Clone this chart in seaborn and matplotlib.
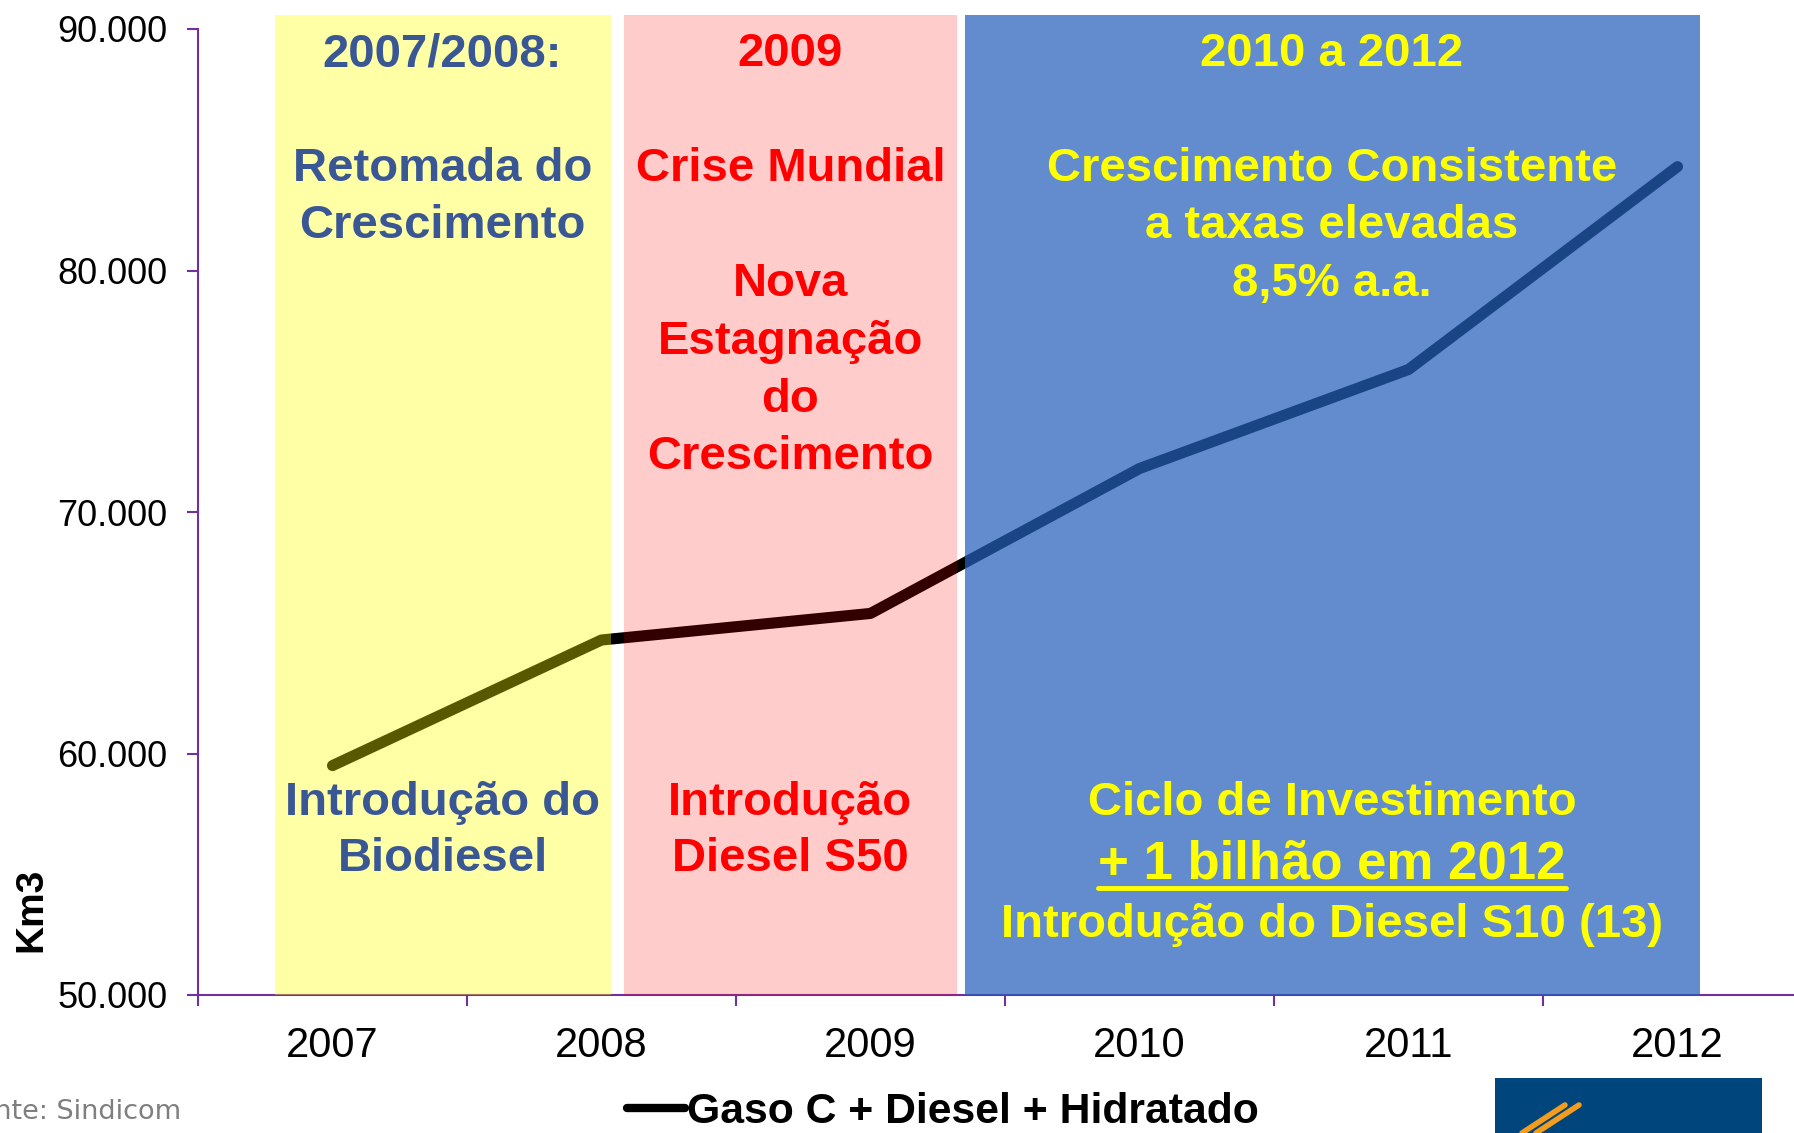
import numpy as np
import pandas as pd
import matplotlib.pyplot as plt
import matplotlib.ticker as mticker
from matplotlib.patches import Rectangle
from matplotlib.lines import Line2D
import seaborn as sns

# Data (Km3)
anos = [2007, 2008, 2009, 2010, 2011, 2012]
volume = [59500, 64700, 65800, 71800, 75900, 84300]
serie = "Gaso C + Diesel + Hidratado"

df = pd.DataFrame({"ano": anos, "volume": volume})

sns.set_style("white")
plt.rcParams["font.family"] = ["Liberation Sans", "DejaVu Sans"]
plt.rcParams["text.color"] = "black"
plt.rcParams["xtick.labelcolor"] = "black"
plt.rcParams["ytick.labelcolor"] = "black"

purple = "#7030A0"
navy = "#3A5795"

fig = plt.figure(figsize=(17.94, 11.33), dpi=100)
ax = fig.add_axes([198 / 1794, 138 / 1133, 1614 / 1794, 966 / 1133])

sns.lineplot(data=df, x="ano", y="volume", color="black", linewidth=8,
             solid_capstyle="round", label=serie, ax=ax, zorder=2)

ax.set_xlim(2006.5, 2012.5)
ax.set_ylim(50000, 90000)

# shaded periods, drawn over the line
periodos = [
    (2006.787, 2008.034, "#FFFF00", 0.35),
    (2008.085, 2009.323, "#FF0000", 0.2),
    (2009.353, 2012.085, "#2560BA", 0.72),
]
for x0, x1, cor, a in periodos:
    ax.add_patch(Rectangle((x0, 50000), x1 - x0, 40600, facecolor=cor,
                           alpha=a, edgecolor="none", zorder=3, clip_on=False))

# period annotations
textos = [
    (2007.409, 88960, "2007/2008:", navy, 34),
    (2007.409, 84220, "Retomada do", navy, 34),
    (2007.409, 81850, "Crescimento", navy, 34),
    (2007.409, 57960, "Introdução do", navy, 34),
    (2007.409, 55640, "Biodiesel", navy, 34),
    (2008.702, 88960, "2009", "#FF0000", 34),
    (2008.702, 84220, "Crise Mundial", "#FF0000", 34),
    (2008.702, 79430, "Nova", "#FF0000", 34),
    (2008.702, 77060, "Estagnação", "#FF0000", 34),
    (2008.702, 74640, "do", "#FF0000", 34),
    (2008.702, 72270, "Crescimento", "#FF0000", 34),
    (2008.702, 57960, "Introdução", "#FF0000", 34),
    (2008.702, 55640, "Diesel S50", "#FF0000", 34),
    (2010.715, 88960, "2010 a 2012", "#FFFF00", 34),
    (2010.715, 84220, "Crescimento Consistente", "#FFFF00", 34),
    (2010.715, 81850, "a taxas elevadas", "#FFFF00", 34),
    (2010.715, 79430, "8,5% a.a.", "#FFFF00", 34),
    (2010.715, 57960, "Ciclo de Investimento", "#FFFF00", 34),
    (2010.715, 52890, "Introdução do Diesel S10 (13)", "#FFFF00", 34),
]
for x, y, t, c, s in textos:
    ax.text(x, y, t, color=c, fontsize=s, fontweight="bold", ha="center",
            va="center", zorder=5)
destaque = ax.text(2010.715, 55400, "+ 1 bilhão em 2012", color="#FFFF00",
                   fontsize=38, fontweight="bold", ha="center", va="center",
                   zorder=5)

# axes styling
for side in ["top", "right"]:
    ax.spines[side].set_visible(False)
for side in ["left", "bottom"]:
    ax.spines[side].set_color(purple)
    ax.spines[side].set_linewidth(1.5)

ax.set_xticks(np.arange(2006.5, 2013, 1))
ax.set_xticklabels([])
ax.set_xticks(anos, minor=True)
ax.set_xticklabels([str(a) for a in anos], minor=True)
ax.tick_params(axis="x", which="major", direction="out", length=8, width=1.5,
               color=purple, bottom=True)
ax.tick_params(axis="x", which="minor", length=0, pad=22, labelsize=30)
ax.set_yticks(np.arange(50000, 90001, 10000))
ax.yaxis.set_major_formatter(
    mticker.FuncFormatter(lambda v, p: f"{v:,.0f}".replace(",", ".")))
ax.tick_params(axis="y", direction="out", length=8, width=1.5, color=purple,
               left=True, pad=14, labelsize=26)
ax.set_xlabel("")
ax.set_ylabel("")

fig.text(31 / 1794, 1 - 910 / 1133, "Km3", rotation=90, fontsize=28,
         fontweight="bold", ha="center", va="center")
fig.text(181 / 1794, 1 - 1112 / 1133, "Fonte: Sindicom", color="#7F7F7F",
         fontsize=19.5, family="DejaVu Sans", ha="right", va="center")

leg = ax.legend(loc="center", bbox_to_anchor=(0.5256, 1 - 1112 / 1133),
                bbox_transform=fig.transFigure, frameon=False,
                handlelength=1.35, handletextpad=0.05,
                prop={"family": "Liberation Sans", "weight": "bold",
                      "size": 30.8})
for h in leg.legend_handles:
    h.set_linewidth(6)

# logo block, bottom right
fig.patches.append(Rectangle((1495 / 1794, 0), 267 / 1794, 55 / 1133,
                             transform=fig.transFigure, facecolor="#00457C",
                             edgecolor="none"))
for dx in [0, 14]:
    fig.lines.append(Line2D([(1522 + dx) / 1794, (1565 + dx) / 1794],
                            [0.0, 28 / 1133], transform=fig.transFigure,
                            color="#F39C1E", linewidth=4))

# underline for the highlighted text
fig.canvas.draw()
bb = destaque.get_window_extent()
uy = (bb.y0 + 2) / fig.bbox.height
fig.lines.append(Line2D([bb.x0 / fig.bbox.width, bb.x1 / fig.bbox.width],
                        [uy, uy], transform=fig.transFigure,
                        color="#FFFF00", linewidth=3.5, zorder=6))

fig.savefig("out.png", dpi=100)
